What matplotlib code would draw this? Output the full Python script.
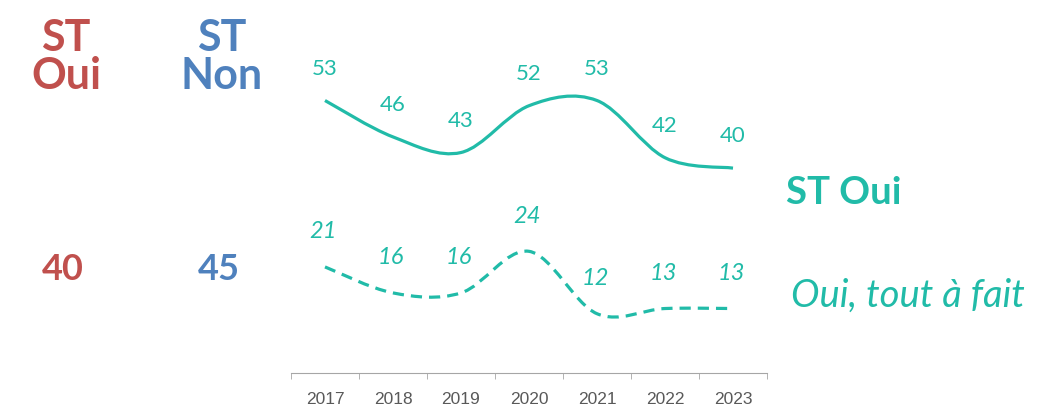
import numpy as np
import matplotlib.pyplot as plt
from matplotlib.path import Path
from matplotlib.patches import PathPatch

# data
years = ['2017', '2018', '2019', '2020', '2021', '2022', '2023']
st_oui = [53, 46, 43, 52, 53, 42, 40]
tout_a_fait = [21, 16, 16, 24, 12, 13, 13]
left_labels = ['ST\nOui', 'ST\nNon']
left_values = [40, 45]

teal = '#21BBA8'
red = '#C0504D'
blue = '#4F81BD'

W, H = 1038, 411
fig = plt.figure(figsize=(W / 100, H / 100), dpi=100)

# axes placed in pixels: x 291..767, y 5..373
ax = fig.add_axes([291 / W, (H - 373) / H, 476 / W, 368 / H])
ax.set_xlim(-0.5, 6.5)
ax.set_ylim(0.6, 0.6 + 368 / 5.2)


def smooth_path(xs, ys):
    # excel-like smoothed line (catmull-rom as cubic bezier)
    pts = np.column_stack([xs, ys]).astype(float)
    verts = [pts[0]]
    codes = [Path.MOVETO]
    n = len(pts)
    for i in range(n - 1):
        p0 = pts[max(i - 1, 0)]
        p1 = pts[i]
        p2 = pts[i + 1]
        p3 = pts[min(i + 2, n - 1)]
        c1 = p1 + (p2 - p0) / 6
        c2 = p2 - (p3 - p1) / 6
        verts += [c1, c2, p2]
        codes += [Path.CURVE4] * 3
    return Path(verts, codes)


x = np.arange(len(years))
ax.add_patch(PathPatch(smooth_path(x, st_oui), fill=False, ec=teal, lw=2.3,
                       capstyle='butt'))
ax.add_patch(PathPatch(smooth_path(x, tout_a_fait), fill=False, ec=teal, lw=2.3,
                       ls=(0, (3.5, 2.2)), capstyle='butt'))

for xi, v in zip(x, st_oui):
    ax.annotate(str(v), (xi, v), xytext=(0, 32), textcoords='offset pixels',
                ha='center', va='center', color=teal, fontsize=16, family='Lato')
for xi, v in zip(x, tout_a_fait):
    ax.annotate(str(v), (xi, v), xytext=(-2, 35), textcoords='offset pixels',
                ha='center', va='center', color=teal, fontsize=17, family='Lato',
                style='italic')

for s in ['top', 'right', 'left']:
    ax.spines[s].set_visible(False)
ax.spines['bottom'].set_color('#A6A6A6')
ax.set_yticks([])
ax.set_xticks(x)
ax.set_xticklabels(years, family='Liberation Sans', fontsize=12.5, color='#595959')
ax.tick_params(axis='x', which='major', length=0, pad=14)
ax.set_xticks(np.arange(-0.5, 7, 1), minor=True)
ax.tick_params(axis='x', which='minor', length=4, color='#A6A6A6', direction='out')

# right side labels
fig.text(786 / W, 1 - 193 / H, 'ST Oui', color=teal, fontsize=27.5, fontweight='bold',
         family='Lato', ha='left', va='center')
fig.text(791 / W, 1 - 296 / H, 'Oui, tout à fait', color=teal, fontsize=27.5,
         style='italic', family='Lato', ha='left', va='center')

# left side labels
for cx, lab, val, col in zip([66, 222], left_labels, left_values, [red, blue]):
    fig.text(cx / W, 1 - 57 / H, lab, color=col, fontsize=31, fontweight='bold',
             family='Lato', ha='center', va='center', linespacing=0.95)
    fig.text((cx - 3) / W, 1 - 269 / H, str(val), color=col, fontsize=26,
             fontweight='bold', family='Lato', ha='center', va='center')

fig.savefig('out.png', dpi=100)
